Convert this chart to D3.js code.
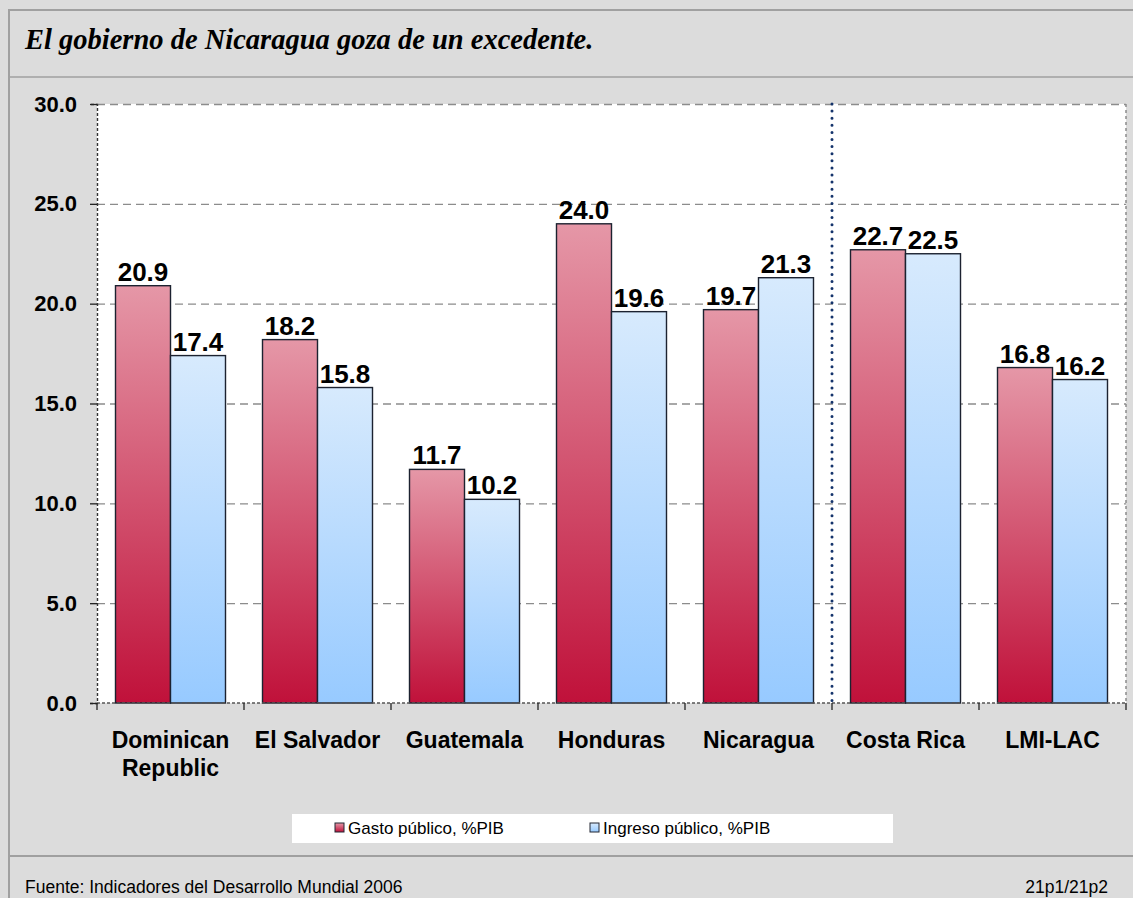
<!DOCTYPE html>
<html>
<head>
<meta charset="utf-8">
<script src="https://cdn.jsdelivr.net/npm/d3@7"></script>
<style>
  body { margin: 0; background: #dcdcdc; }
  svg { display: block; }
</style>
</head>
<body>
<div id="chart"></div>
<script>
// data
var categories = ["Dominican Republic", "El Salvador", "Guatemala", "Honduras", "Nicaragua", "Costa Rica", "LMI-LAC"];
var catLines   = [["Dominican", "Republic"], ["El Salvador"], ["Guatemala"], ["Honduras"], ["Nicaragua"], ["Costa Rica"], ["LMI-LAC"]];
var seriesNames = ["Gasto público, %PIB", "Ingreso público, %PIB"];
var gasto   = [20.9, 18.2, 11.7, 24.0, 19.7, 22.7, 16.8];
var ingreso = [17.4, 15.8, 10.2, 19.6, 21.3, 22.5, 16.2];
var yTicks  = [0, 5, 10, 15, 20, 25, 30];
var dividerAfter = "Nicaragua";

var W = 1133, H = 898;
var plot = { left: 97, right: 1126, top: 104, bottom: 703 };
var sans = "'Liberation Sans', Arial, sans-serif";

var svg = d3.select('#chart').append('svg')
  .attr('width', W)
  .attr('height', H);

var defs = svg.append('defs');
var grads = [
  { id: 'gRed',  top: '#e597a7', bottom: '#c0113a' },
  { id: 'gBlue', top: '#d7eafd', bottom: '#97caff' }
];
grads.forEach(function(g) {
  var lg = defs.append('linearGradient').attr('id', g.id)
    .attr('x1', 0).attr('y1', 0).attr('x2', 0).attr('y2', 1);
  lg.append('stop').attr('offset', '0%').attr('stop-color', g.top);
  lg.append('stop').attr('offset', '100%').attr('stop-color', g.bottom);
});

// frame
svg.append('rect').attr('x', 0).attr('y', 0).attr('width', W).attr('height', H).attr('fill', '#dcdcdc');
svg.append('line').attr('x1', 9).attr('x2', W).attr('y1', 10).attr('y2', 10)
  .attr('stroke', '#a0a0a0').attr('stroke-width', 2);
svg.append('line').attr('x1', 9).attr('x2', 9).attr('y1', 9).attr('y2', H)
  .attr('stroke', '#a0a0a0').attr('stroke-width', 2);
svg.append('line').attr('x1', 9).attr('x2', W).attr('y1', 77).attr('y2', 77)
  .attr('stroke', '#a0a0a0').attr('stroke-width', 1.5);
svg.append('line').attr('x1', 9).attr('x2', W).attr('y1', 856).attr('y2', 856)
  .attr('stroke', '#a0a0a0').attr('stroke-width', 2);

// title
svg.append('text')
  .attr('x', 25).attr('y', 49)
  .style('font-family', "'Liberation Serif', 'Times New Roman', serif")
  .style('font-style', 'italic')
  .style('font-weight', 'bold')
  .style('font-size', '28.5px')
  .text('El gobierno de Nicaragua goza de un excedente.');

// scales
var y = d3.scaleLinear().domain([0, 30]).range([plot.bottom, plot.top]);
var x = d3.scaleBand().domain(categories).range([plot.left, plot.right]).padding(0);
var xSub = d3.scaleBand().domain(seriesNames).range([18.5, x.bandwidth() - 18.5]).padding(0);

// plot background
svg.append('rect')
  .attr('x', plot.left).attr('y', plot.top)
  .attr('width', plot.right - plot.left).attr('height', plot.bottom - plot.top)
  .attr('fill', '#fff');

// gridlines
var grid = svg.append('g')
  .attr('transform', 'translate(' + plot.left + ',0)')
  .call(d3.axisLeft(y).tickValues(yTicks.slice(1)).tickSize(-(plot.right - plot.left)).tickFormat(''));
grid.select('.domain').remove();
grid.selectAll('line').attr('stroke', '#8c8c8c').attr('stroke-width', 1.3).attr('stroke-dasharray', '8,5');

// right border, dotted
svg.append('line')
  .attr('x1', plot.right).attr('x2', plot.right).attr('y1', plot.top).attr('y2', plot.bottom)
  .attr('stroke', '#8c8c8c').attr('stroke-width', 1.5).attr('stroke-dasharray', '3,3');

// divider between Nicaragua and Costa Rica
var divX = x(dividerAfter) + x.bandwidth();
svg.append('line')
  .attr('x1', divX).attr('x2', divX).attr('y1', plot.top).attr('y2', plot.bottom)
  .attr('stroke', '#14336b').attr('stroke-width', 3)
  .attr('stroke-linecap', 'round').attr('stroke-dasharray', '0,7.1');

// bars
var rows = categories.map(function(c, i) {
  return { cat: c, vals: [
    { s: seriesNames[0], v: gasto[i], fill: 'url(#gRed)' },
    { s: seriesNames[1], v: ingreso[i], fill: 'url(#gBlue)' }
  ] };
});

var groups = svg.append('g').selectAll('g').data(rows)
  .enter().append('g')
  .attr('transform', function(d) { return 'translate(' + x(d.cat) + ',0)'; });

groups.selectAll('rect').data(function(d) { return d.vals; })
  .enter().append('rect')
  .attr('x', function(d) { return xSub(d.s); })
  .attr('y', function(d) { return y(d.v); })
  .attr('width', xSub.bandwidth())
  .attr('height', function(d) { return y(0) - y(d.v); })
  .attr('fill', function(d) { return d.fill; })
  .attr('stroke', '#1c2230')
  .attr('stroke-width', 1.4);

groups.selectAll('text').data(function(d) { return d.vals; })
  .enter().append('text')
  .attr('x', function(d) { return xSub(d.s) + xSub.bandwidth() / 2; })
  .attr('y', function(d) { return y(d.v) - 5; })
  .attr('text-anchor', 'middle')
  .style('font-family', sans)
  .style('font-weight', 'bold')
  .style('font-size', '26px')
  .text(function(d) { return d3.format('.1f')(d.v); });

// y axis
var yAxis = svg.append('g')
  .attr('transform', 'translate(' + plot.left + ',0)')
  .call(d3.axisLeft(y).tickValues(yTicks).tickSize(7).tickPadding(13).tickFormat(d3.format('.1f')));
yAxis.select('.domain')
  .attr('stroke', '#333').attr('stroke-width', 1.4).attr('stroke-dasharray', '3,2');
yAxis.selectAll('line').attr('stroke', '#222').attr('stroke-width', 1.3);
yAxis.selectAll('text')
  .style('font-family', sans)
  .style('font-weight', 'bold')
  .style('font-size', '22px')
  .attr('fill', '#000');

// x axis line and boundary ticks
svg.append('line')
  .attr('x1', plot.left).attr('x2', plot.right).attr('y1', plot.bottom).attr('y2', plot.bottom)
  .attr('stroke', '#555').attr('stroke-width', 1.3).attr('stroke-dasharray', '3,2');
var bounds = categories.map(function(c) { return x(c); }).concat([x.range()[1]]);
svg.append('g').selectAll('line').data(bounds)
  .enter().append('line')
  .attr('x1', function(d) { return d; }).attr('x2', function(d) { return d; })
  .attr('y1', plot.bottom).attr('y2', plot.bottom + 7)
  .attr('stroke', '#222').attr('stroke-width', 1.3);

// category labels
var catText = svg.append('g').selectAll('text').data(categories)
  .enter().append('text')
  .attr('x', function(d) { return x(d) + x.bandwidth() / 2; })
  .attr('y', 748)
  .attr('text-anchor', 'middle')
  .style('font-family', sans)
  .style('font-weight', 'bold')
  .style('font-size', '23px');
catText.each(function(d, i) {
  var t = d3.select(this);
  catLines[i].forEach(function(line, j) {
    t.append('tspan')
      .attr('x', x(d) + x.bandwidth() / 2)
      .attr('dy', j === 0 ? 0 : 28)
      .text(line);
  });
});

// legend
svg.append('rect')
  .attr('x', 292).attr('y', 814).attr('width', 601).attr('height', 29)
  .attr('fill', '#fff');
var legendX = [335, 590];
var legend = svg.append('g').selectAll('g').data(seriesNames)
  .enter().append('g')
  .attr('transform', function(d, i) { return 'translate(' + legendX[i] + ',823)'; });
legend.append('rect')
  .attr('width', 9).attr('height', 9)
  .attr('fill', function(d, i) { return i === 0 ? 'url(#gRed)' : 'url(#gBlue)'; })
  .attr('stroke', '#222733').attr('stroke-width', 1);
legend.append('text')
  .attr('x', 13).attr('y', 11)
  .style('font-family', sans)
  .style('font-size', '17px')
  .text(function(d) { return d; });

// footer
svg.append('text')
  .attr('x', 25).attr('y', 893)
  .style('font-family', sans)
  .style('font-size', '17.5px')
  .text('Fuente: Indicadores del Desarrollo Mundial 2006');
svg.append('text')
  .attr('x', 1108).attr('y', 893)
  .attr('text-anchor', 'end')
  .style('font-family', sans)
  .style('font-size', '17.5px')
  .text('21p1/21p2');
</script>
</body>
</html>
